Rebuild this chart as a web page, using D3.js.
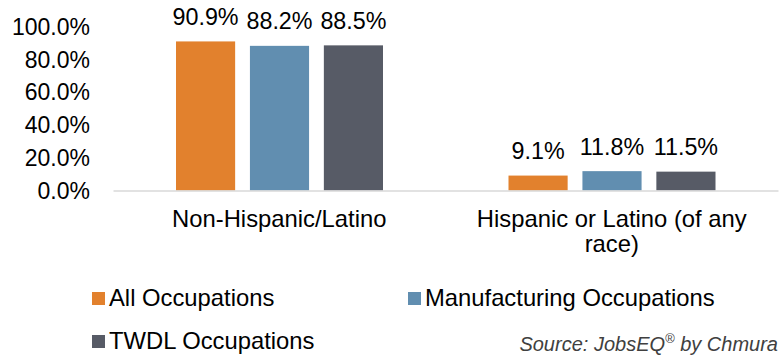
<!DOCTYPE html>
<html>
<head>
<meta charset="utf-8">
<script src="https://cdn.jsdelivr.net/npm/d3@7"></script>
<style>
  html, body { margin: 0; padding: 0; background: #fff; }
  svg { display: block; font-family: "Liberation Sans", Arial, sans-serif; }
</style>
</head>
<body>
<svg id="chart" width="783" height="356"></svg>
<script>
const categories = ["Non-Hispanic/Latino", "Hispanic or Latino (of any race)"];
const categoryLines = [["Non-Hispanic/Latino"], ["Hispanic or Latino (of any", "race)"]];
const seriesNames = ["All Occupations", "Manufacturing Occupations", "TWDL Occupations"];
const allOccupations = [90.9, 9.1];
const manufacturingOccupations = [88.2, 11.8];
const twdlOccupations = [88.5, 11.5];
const yTicks = [0, 20, 40, 60, 80, 100];
const colors = ["#E2812D", "#618EB0", "#575B66"];
const sourceText = "Source: JobsEQ";
const sourceRest = " by Chmura";

const seriesValues = [allOccupations, manufacturingOccupations, twdlOccupations];

const svg = d3.select("#chart");

const x0 = d3.scaleBand().domain(categories).range([113, 778]).paddingInner(0).paddingOuter(0);
const x1 = d3.scaleBand().domain(seriesNames).range([63, 270]).paddingInner(0.2).paddingOuter(0);
const y = d3.scaleLinear().domain([0, 100]).range([190.5, 26.5]);

// y tick labels
const yAxis = d3.axisLeft(y).tickValues(yTicks).tickSize(0).tickPadding(0)
  .tickFormat(d => d3.format(".1f")(d) + "%");
const gy = svg.append("g").attr("transform", "translate(90,0)").call(yAxis);
gy.select(".domain").remove();
gy.selectAll("text").attr("font-size", "23px").attr("fill", "#000")
  .attr("font-family", "Liberation Sans, Arial, sans-serif").attr("dy", "0.34em");

// bars
const groups = svg.append("g").selectAll("g").data(categories).join("g")
  .attr("transform", d => `translate(${x0(d)},0)`);

groups.each(function(cat, ci) {
  const g = d3.select(this);
  seriesNames.forEach((s, si) => {
    const v = seriesValues[si][ci];
    g.append("rect")
      .attr("x", x1(s))
      .attr("y", y(v))
      .attr("width", x1.bandwidth())
      .attr("height", y(0) - y(v))
      .attr("fill", colors[si]);
    g.append("text")
      .attr("x", x1(s) + x1.bandwidth() / 2)
      .attr("y", y(v) - 16.5)
      .attr("text-anchor", "middle")
      .attr("font-size", "23.3px")
      .attr("fill", "#000")
      .text(d3.format(".1f")(v) + "%");
  });
});

// x axis line
const xAxis = d3.axisBottom(x0).tickSize(0).tickFormat("");
const gx = svg.append("g").attr("transform", `translate(0,${y(0)})`).call(xAxis);
gx.select(".domain").attr("stroke", "#D9D9D9").attr("stroke-width", 1.5);

// category labels
categories.forEach((c, i) => {
  const t = svg.append("text")
    .attr("x", x0(c) + x0.bandwidth() / 2)
    .attr("y", 227)
    .attr("text-anchor", "middle")
    .attr("font-size", "23.8px")
    .attr("fill", "#000");
  categoryLines[i].forEach((ln, li) => {
    t.append("tspan").attr("x", x0(c) + x0.bandwidth() / 2).attr("dy", li === 0 ? 0 : 25).text(ln);
  });
});

// legend
const legendPos = [[92, 292], [408, 292], [92, 335]];
seriesNames.forEach((s, i) => {
  const [lx, ly] = legendPos[i];
  svg.append("rect").attr("x", lx).attr("y", ly).attr("width", 13).attr("height", 13).attr("fill", colors[i]);
  svg.append("text").attr("x", lx + 17).attr("y", ly + 14)
    .attr("font-size", "23.8px").attr("fill", "#000").text(s);
});

// source
const src = svg.append("text").attr("x", 778).attr("y", 351)
  .attr("text-anchor", "end").attr("font-size", "20px")
  .attr("font-style", "italic").attr("fill", "#404040");
src.append("tspan").text(sourceText);
src.append("tspan").attr("font-size", "13px").attr("dy", "-8").text("®");
src.append("tspan").attr("dy", "8").text(sourceRest);
</script>
</body>
</html>
